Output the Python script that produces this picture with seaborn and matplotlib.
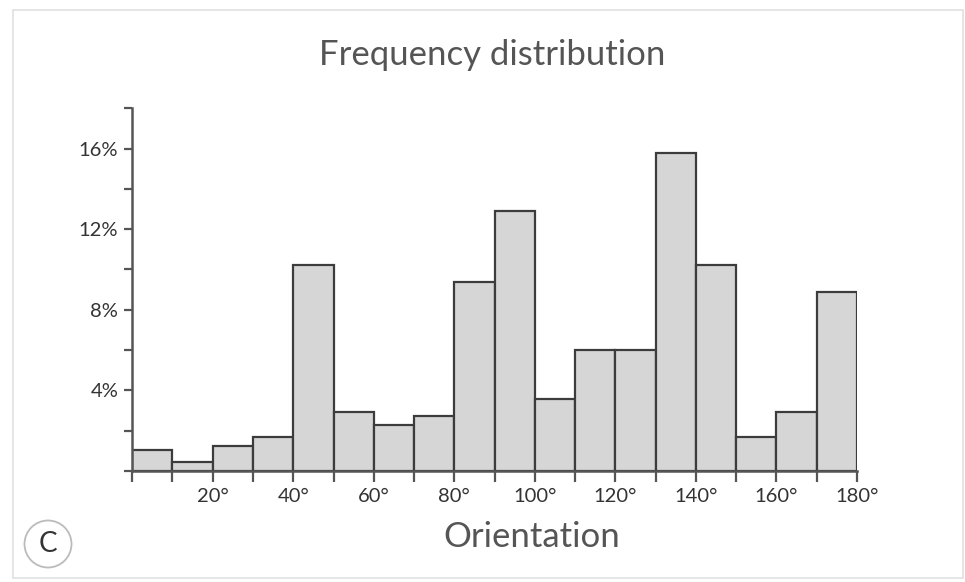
import numpy as np
import pandas as pd
import matplotlib
matplotlib.use("Agg")
import matplotlib.pyplot as plt
from matplotlib.patches import Circle, Rectangle
import seaborn as sns

# bin starts (degrees) and share of observations in each 10° bin (%)
bin_start = [0, 10, 20, 30, 40, 50, 60, 70, 80, 90, 100, 110, 120, 130, 140, 150, 160, 170]
percent = [1.04, 0.43, 1.25, 1.7, 10.2, 2.9, 2.3, 2.7, 9.36, 12.9, 3.55, 6.0, 6.0, 15.8, 10.2, 1.68, 2.9, 8.9]
x_ticklabels = ["20°", "40°", "60°", "80°", "100°", "120°", "140°", "160°", "180°"]
y_ticklabels = ["4%", "8%", "12%", "16%"]

df = pd.DataFrame({"orientation": np.array(bin_start) + 5, "pct": percent})

sns.set_style("white")
plt.rcParams["font.family"] = ["Lato", "DejaVu Sans"]

fig = plt.figure(figsize=(9.65, 5.82), dpi=100)
ax = fig.add_axes([0.137, 0.191, 0.751, 0.623])

sns.histplot(data=df, x="orientation", weights="pct", binwidth=10, binrange=(0, 180),
             color="#d6d6d6", edgecolor="#3c3c3c", linewidth=1.6, alpha=1, ax=ax)

ax.set_xlim(0, 180)
ax.set_ylim(0, 18)

ax.set_xticks(np.arange(0, 181, 10), minor=True)
ax.set_xticks(np.arange(20, 181, 20))
ax.set_xticklabels(x_ticklabels)
ax.set_yticks(np.arange(0, 19, 2), minor=True)
ax.set_yticks([4, 8, 12, 16])
ax.set_yticklabels(y_ticklabels)

ax.tick_params(axis="both", which="both", direction="out", color="#555555",
               width=1.6, labelsize=14.5, labelcolor="#333333",
               bottom=True, left=True)
ax.tick_params(axis="x", which="both", length=8, pad=4)
ax.tick_params(axis="y", which="both", length=6, pad=4)

for s in ["top", "right"]:
    ax.spines[s].set_visible(False)
for s in ["left", "bottom"]:
    ax.spines[s].set_color("#555555")
    ax.spines[s].set_linewidth(1.8)

ax.set_xlabel("")
ax.set_ylabel("")

fig.text(0.51, 0.905, "Frequency distribution", ha="center", va="center",
         fontsize=25, color="#555555")
fig.text(0.551, 0.077, "Orientation", ha="center", va="center",
         fontsize=25, color="#555555")

# panel letter (circle sized in inches so it stays round)
fig.patches.append(Circle((0.48, 0.38), 0.235, transform=fig.dpi_scale_trans,
                          facecolor="white", edgecolor="#bbbbbb", linewidth=1.3,
                          figure=fig))
fig.text(0.48 / 9.65, 0.38 / 5.82, "C", ha="center", va="center", fontsize=20,
         color="#333333")

# light frame around the figure
fig.patches.append(Rectangle((0.013, 0.007), 0.985, 0.975, transform=fig.transFigure,
                             fill=False, edgecolor="#e0e0e0", linewidth=1.2,
                             figure=fig))

fig.savefig("out.png", dpi=100)
